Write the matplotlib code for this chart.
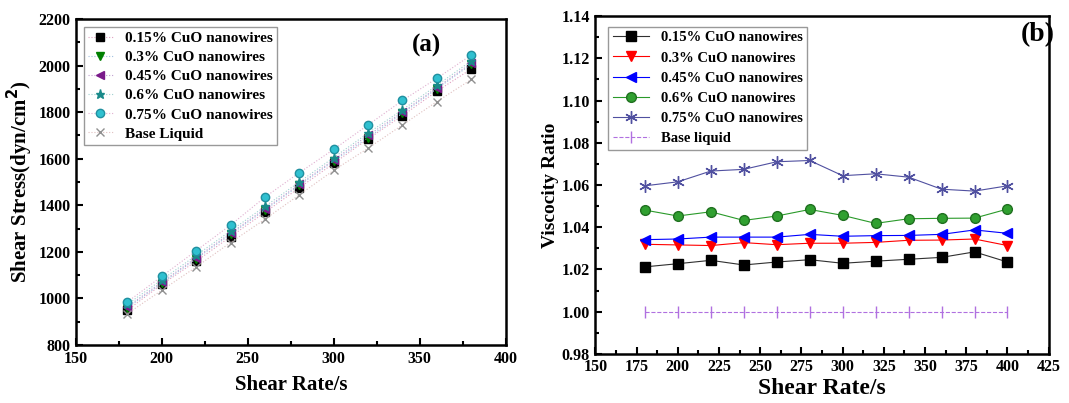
import matplotlib
matplotlib.use('Agg')
import matplotlib.pyplot as plt
from matplotlib.ticker import MultipleLocator

plt.rcParams['font.family'] = 'Liberation Serif'
plt.rcParams['font.weight'] = 'bold'
plt.rcParams['axes.labelweight'] = 'bold'

# ---- data, panel (a)
rate_a = [180, 200, 220, 240, 260, 280, 300, 320, 340, 360, 380]
s015 = [950, 1060, 1160, 1265, 1370, 1475, 1580, 1685, 1785, 1890, 1985]
s030 = [960, 1065, 1170, 1275, 1380, 1485, 1590, 1690, 1795, 1900, 2005]
s045 = [965, 1070, 1175, 1280, 1385, 1490, 1595, 1700, 1800, 1905, 2010]
s060 = [975, 1080, 1185, 1290, 1395, 1500, 1605, 1710, 1810, 1915, 2020]
s075 = [985, 1095, 1205, 1315, 1435, 1540, 1640, 1745, 1850, 1945, 2045]
sbase = [935, 1035, 1135, 1240, 1340, 1445, 1550, 1645, 1745, 1845, 1940]
labels_a = ['0.15% CuO nanowires', '0.3% CuO nanowires', '0.45% CuO nanowires',
            '0.6% CuO nanowires', '0.75% CuO nanowires', 'Base Liquid']

# ---- data, panel (b)
rate_b = [180, 200, 220, 240, 260, 280, 300, 320, 340, 360, 380, 400]
v015 = [1.0212, 1.0227, 1.0243, 1.0221, 1.0235, 1.0246, 1.0229, 1.0239, 1.0248, 1.0257, 1.0283, 1.0235]
v030 = [1.0319, 1.0316, 1.0313, 1.0327, 1.0317, 1.0324, 1.0324, 1.0328, 1.0338, 1.0339, 1.0344, 1.0313]
v045 = [1.0341, 1.0344, 1.0353, 1.0353, 1.0353, 1.0366, 1.0357, 1.0360, 1.0361, 1.0366, 1.0387, 1.0371]
v060 = [1.0481, 1.0453, 1.0473, 1.0432, 1.0453, 1.0484, 1.0456, 1.0418, 1.0440, 1.0442, 1.0443, 1.0486]
v075 = [1.0596, 1.0615, 1.0666, 1.0674, 1.0710, 1.0716, 1.0644, 1.0653, 1.0637, 1.0580, 1.0571, 1.0596]
vbase = [1.0] * 12
labels_b = ['0.15% CuO nanowires', '0.3% CuO nanowires', '0.45% CuO nanowires',
            '0.6% CuO nanowires', '0.75% CuO nanowires', 'Base liquid']

fig = plt.figure(figsize=(10.69, 4.03), dpi=100)
ax1 = fig.add_axes([0.071, 0.144, 0.402, 0.809])
ax2 = fig.add_axes([0.557, 0.122, 0.424, 0.838])

# panel (a)
ax1.plot(rate_a, s015, 's', ls=':', color='#e0a0c0', lw=0.8, mfc='black', mec='black', ms=5.5, label=labels_a[0])
ax1.plot(rate_a, s030, 'v', ls=':', color='#a0c0e0', lw=0.8, mfc='green', mec='green', ms=6, label=labels_a[1])
ax1.plot(rate_a, s045, '<', ls=':', color='#c0a0d0', lw=0.8, mfc='#7a1a8a', mec='#7a1a8a', ms=6, label=labels_a[2])
ax1.plot(rate_a, s060, '*', ls=':', color='#a0d0d0', lw=0.8, mfc='#1a8a8a', mec='#1a8a8a', ms=6.5, label=labels_a[3])
ax1.plot(rate_a, s075, 'o', ls=':', color='#e0b0d0', lw=0.8, mfc='#30c0d0', mec='#2090a0', ms=6, label=labels_a[4])
ax1.plot(rate_a, sbase, 'x', ls=':', color='#e0c0c0', lw=0.8, mfc='grey', mec='#909090', ms=5.5, label=labels_a[5])
ax1.set_xlim(150, 400)
ax1.set_ylim(800, 2200)
ax1.xaxis.set_major_locator(MultipleLocator(50))
ax1.xaxis.set_minor_locator(MultipleLocator(25))
ax1.yaxis.set_major_locator(MultipleLocator(200))
ax1.yaxis.set_minor_locator(MultipleLocator(100))
ax1.set_xlabel('Shear Rate/s', fontsize=15, labelpad=6)
ax1.set_ylabel('Shear Stress(dyn/cm$^\\mathbf{2}$)', fontsize=15, labelpad=2)
ax1.text(0.816, 0.92, '(a)', transform=ax1.transAxes, fontsize=18, ha='center', va='center')
leg = ax1.legend(loc='upper left', fontsize=11, frameon=True, fancybox=False,
                 edgecolor='grey', handlelength=1.6, borderpad=0.3, labelspacing=0.36)
leg.get_frame().set_linewidth(1.0)

# panel (b)
ax2.plot(rate_b, v015, 's-', color='#303030', lw=0.8, mfc='black', mec='black', ms=7, label=labels_b[0])
ax2.plot(rate_b, v030, 'v-', color='red', lw=0.8, ms=7, label=labels_b[1])
ax2.plot(rate_b, v045, '<-', color='blue', lw=0.8, ms=7, label=labels_b[2])
ax2.plot(rate_b, v060, 'o-', color='#2a9a2a', lw=0.8, mfc='#30a030', mec='#207020', ms=7, label=labels_b[3])
ax2.plot(rate_b, v075, marker=(6, 2, 0), ls='-', color='#5050a0', lw=0.8, ms=9, label=labels_b[4])
ax2.plot(rate_b, vbase, '|', ls='--', color='#b070e0', lw=0.8, ms=8, label=labels_b[5])
ax2.set_xlim(150, 425)
ax2.set_ylim(0.98, 1.14)
ax2.xaxis.set_major_locator(MultipleLocator(25))
ax2.xaxis.set_minor_locator(MultipleLocator(12.5))
ax2.yaxis.set_major_locator(MultipleLocator(0.02))
ax2.yaxis.set_minor_locator(MultipleLocator(0.01))
ax2.yaxis.set_major_formatter(matplotlib.ticker.FormatStrFormatter('%.2f'))
ax2.set_xlabel('Shear Rate/s', fontsize=17, labelpad=2)
ax2.set_ylabel('Viscocity Ratio', fontsize=14, labelpad=2)
ax2.text(0.975, 0.945, '(b)', transform=ax2.transAxes, fontsize=20, ha='center', va='center')
leg = ax2.legend(loc='upper left', fontsize=10.5, frameon=True, fancybox=False,
                 edgecolor='grey', handlelength=2.5, borderpad=0.3, labelspacing=0.48,
                 bbox_to_anchor=(0.012, 0.99))
leg.get_frame().set_linewidth(1.0)

for ax in (ax1, ax2):
    for sp in ax.spines.values():
        sp.set_linewidth(1.8)
    ax.tick_params(which='both', direction='in', width=1.5, labelsize=11.5, top=False, right=False)
    ax.tick_params(axis='x', which='both', pad=4)
    ax.tick_params(axis='y', which='both', pad=4)
    ax.tick_params(which='major', length=5)
    ax.tick_params(which='minor', length=3)
    for t in ax.get_xticklabels() + ax.get_yticklabels():
        t.set_fontweight('bold')

fig.savefig('out.png', dpi=100)
